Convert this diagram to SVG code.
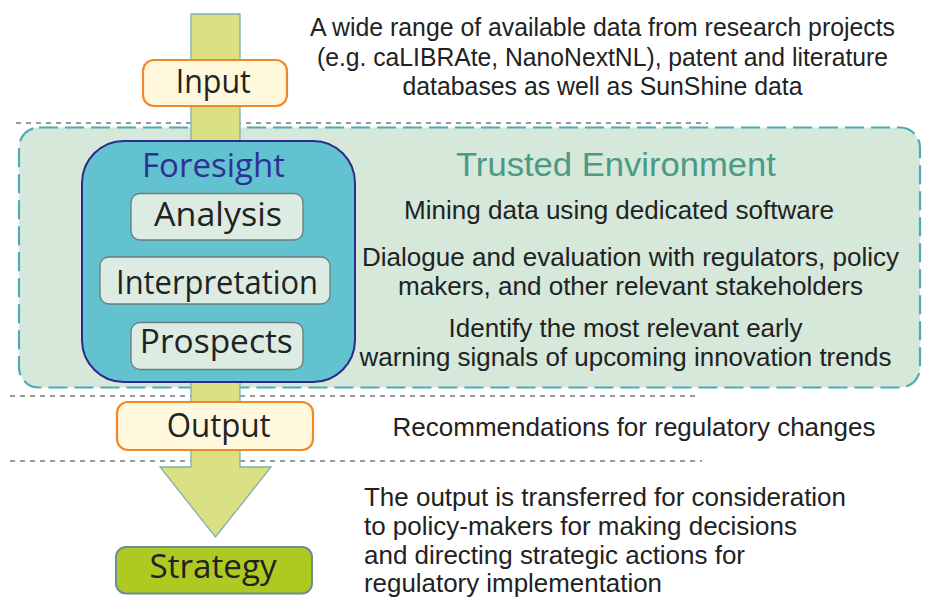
<svg xmlns="http://www.w3.org/2000/svg" width="925" height="601" viewBox="0 0 925 601">
  <style>
    .sep { stroke: #7a7a7a; stroke-width: 1.5; stroke-dasharray: 5 5; fill: none; }
    .stage { fill: #fff8dc; stroke: #f0882a; stroke-width: 2.2; }
    .step { fill: #dcece2; stroke: #6d7b79; stroke-width: 1.3; }
    .label { font-family: "Open Sans", "Liberation Sans", sans-serif; font-size: 33px; fill: #222; text-anchor: middle; }
    .note { font-family: "Liberation Sans", Arial, sans-serif; font-size: 26px; fill: #222; text-anchor: middle; }
    .note-left { font-family: "Liberation Sans", Arial, sans-serif; font-size: 26px; fill: #222; }
  </style>

  <!-- dashed phase separators -->
  <g id="separators">
    <line class="sep" x1="16" y1="123" x2="708" y2="123"/>
    <line class="sep" x1="10" y1="396" x2="700" y2="396"/>
    <line class="sep" x1="10" y1="461" x2="702" y2="461"/>
  </g>

  <!-- trusted environment container -->
  <g id="trusted-environment">
    <rect x="19" y="127.5" width="901" height="260" rx="20" fill="#d5e8da" stroke="#4fa9b7" stroke-width="2.2" stroke-dasharray="19 7"/>
    <text x="616" y="176" font-family="Liberation Sans, Arial, sans-serif" font-size="34" fill="#4a9a86" text-anchor="middle" textLength="320" lengthAdjust="spacingAndGlyphs">Trusted Environment</text>
  </g>

  <!-- main flow arrow -->
  <g id="connectors">
    <path d="M191,14 H240 V467 H271 L215.5,537 L160,467 H191 Z" fill="#dae185" stroke="#7fb0ad" stroke-width="1.3" stroke-linejoin="miter"/>
  </g>

  <g id="input">
    <rect class="stage" x="143" y="60" width="144" height="46" rx="11"/>
    <text class="label" x="213.3" y="93" textLength="75" lengthAdjust="spacingAndGlyphs">Input</text>
  </g>

  <g id="foresight">
    <rect x="82" y="141" width="273" height="241" rx="42" fill="#62c2d0" stroke="#2e2a8c" stroke-width="2"/>
    <text class="label" x="213.5" y="177" style="fill:#2e3192" textLength="143" lengthAdjust="spacingAndGlyphs">Foresight</text>
  </g>

  <g id="analysis">
    <rect class="step" x="131" y="193.5" width="172" height="46.5" rx="9"/>
    <text class="label" x="218" y="226" textLength="128" lengthAdjust="spacingAndGlyphs">Analysis</text>
  </g>

  <g id="interpretation">
    <rect class="step" x="100" y="257" width="230" height="47" rx="9"/>
    <text class="label" x="217" y="293.5" textLength="202" lengthAdjust="spacingAndGlyphs">Interpretation</text>
  </g>

  <g id="prospects">
    <rect class="step" x="131" y="322.5" width="172" height="47" rx="9"/>
    <text class="label" x="216.3" y="353" textLength="153" lengthAdjust="spacingAndGlyphs">Prospects</text>
  </g>

  <g id="output">
    <rect class="stage" x="117" y="402" width="196" height="48" rx="11"/>
    <text class="label" x="218.7" y="437" textLength="104" lengthAdjust="spacingAndGlyphs">Output</text>
  </g>

  <g id="strategy">
    <rect x="116" y="547" width="196" height="46.5" rx="10" fill="#aec922" stroke="#6b8f8c" stroke-width="2"/>
    <text class="label" x="213" y="578" textLength="127" lengthAdjust="spacingAndGlyphs">Strategy</text>
  </g>

  <!-- descriptions -->
  <g id="input-note">
    <text class="note" x="602.5" y="36" textLength="585" lengthAdjust="spacingAndGlyphs">A wide range of available data from research projects</text>
    <text class="note" x="602.5" y="66" textLength="571" lengthAdjust="spacingAndGlyphs">(e.g. caLIBRAte, NanoNextNL), patent and literature</text>
    <text class="note" x="602.5" y="95" textLength="400" lengthAdjust="spacingAndGlyphs">databases as well as SunShine data</text>
  </g>

  <g id="analysis-note">
    <text class="note" x="619" y="219" textLength="430" lengthAdjust="spacingAndGlyphs">Mining data using dedicated software</text>
  </g>

  <g id="interpretation-note">
    <text class="note" x="630.5" y="266" textLength="537" lengthAdjust="spacingAndGlyphs">Dialogue and evaluation with regulators, policy</text>
    <text class="note" x="630.5" y="295" textLength="465" lengthAdjust="spacingAndGlyphs">makers, and other relevant stakeholders</text>
  </g>

  <g id="prospects-note">
    <text class="note" x="625.5" y="337" textLength="354" lengthAdjust="spacingAndGlyphs">Identify the most relevant early</text>
    <text class="note" x="625.5" y="366" textLength="532" lengthAdjust="spacingAndGlyphs">warning signals of upcoming innovation trends</text>
  </g>

  <g id="output-note">
    <text class="note" x="634" y="436" textLength="483" lengthAdjust="spacingAndGlyphs">Recommendations for regulatory changes</text>
  </g>

  <g id="strategy-note">
    <text class="note-left" x="364" y="506" textLength="482" lengthAdjust="spacingAndGlyphs">The output is transferred for consideration</text>
    <text class="note-left" x="364" y="535" textLength="433" lengthAdjust="spacingAndGlyphs">to policy-makers for making decisions</text>
    <text class="note-left" x="364" y="564" textLength="381" lengthAdjust="spacingAndGlyphs">and directing strategic actions for</text>
    <text class="note-left" x="364" y="592" textLength="298" lengthAdjust="spacingAndGlyphs">regulatory implementation</text>
  </g>
</svg>
